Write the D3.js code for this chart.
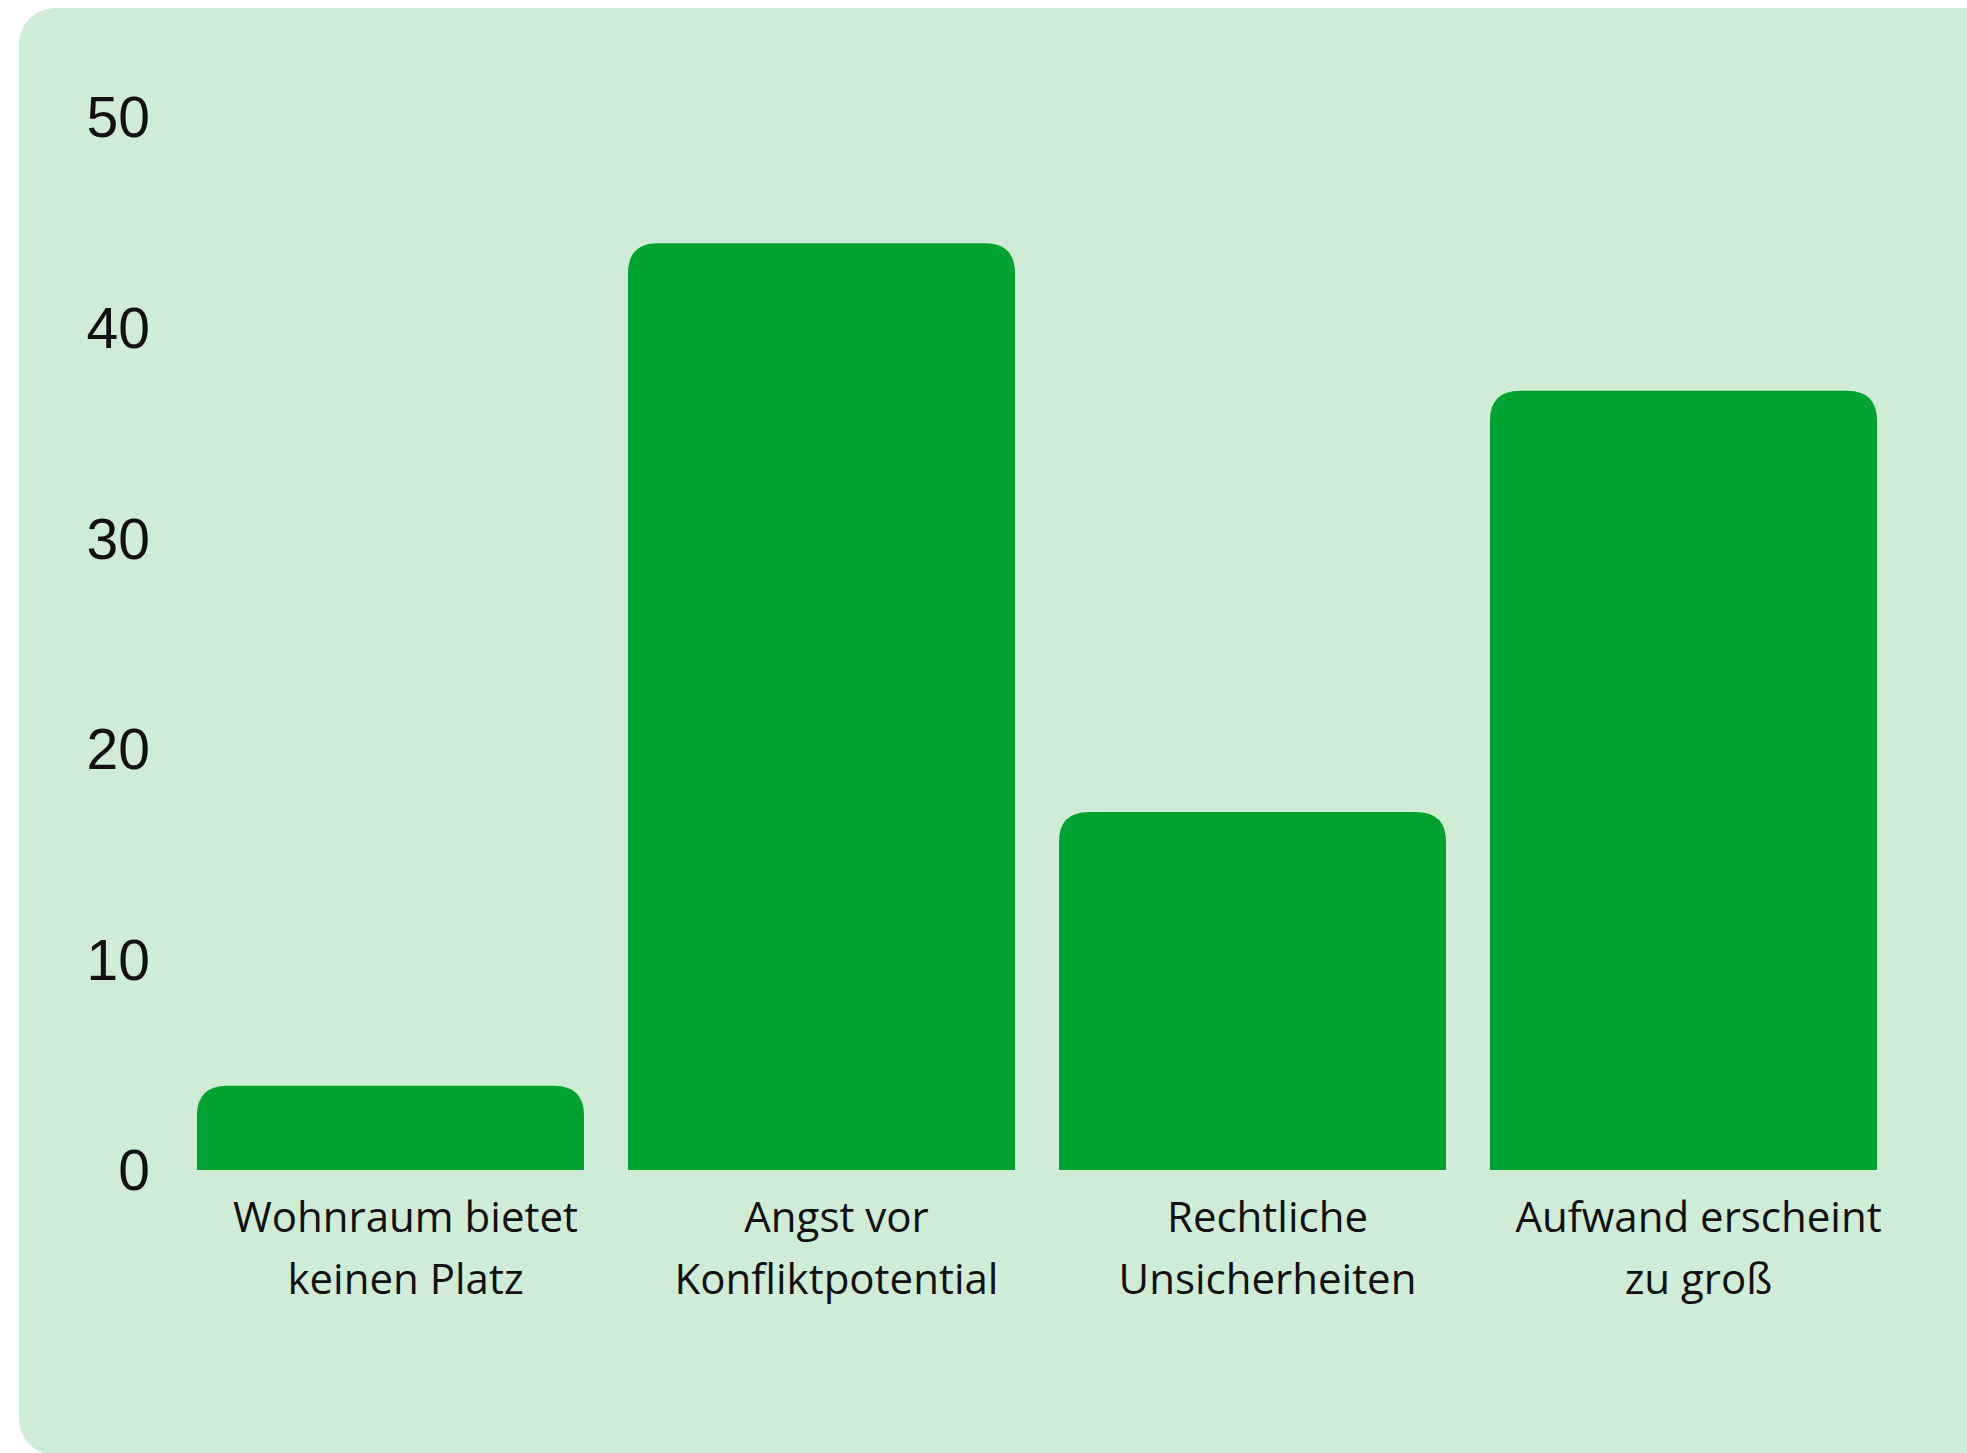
<!DOCTYPE html>
<html>
<head>
<meta charset="utf-8">
<script src="https://cdn.jsdelivr.net/npm/d3@7"></script>
<style>
  body { margin: 0; background: #ffffff; }
  svg { display: block; }
</style>
</head>
<body>
<div id="chart"></div>
<script>
// data
var categories = [
  ["Wohnraum bietet", "keinen Platz"],
  ["Angst vor", "Konfliktpotential"],
  ["Rechtliche", "Unsicherheiten"],
  ["Aufwand erscheint", "zu groß"]
];
var values = [4, 44, 17, 37];
var yTicks = [0, 10, 20, 30, 40, 50];

var W = 1967, H = 1453;
var svg = d3.select("#chart").append("svg")
  .attr("width", W)
  .attr("height", H);

// light green panel, runs off the right and bottom edge
svg.append("rect")
  .attr("x", 19)
  .attr("y", 8)
  .attr("width", W + 60)
  .attr("height", H + 2 - 8)
  .attr("rx", 36)
  .attr("fill", "#cfecd6");

var x = d3.scaleBand()
  .domain(d3.range(values.length))
  .range([175, 1899])
  .paddingInner(0.102)
  .paddingOuter(0.051);

var y = d3.scaleLinear()
  .domain([0, 50])
  .range([1170, 117]);

// y axis: only labels, no line and no ticks
var yAxis = svg.append("g")
  .attr("transform", "translate(150,0)")
  .call(d3.axisLeft(y).tickValues(yTicks).tickSize(0).tickPadding(0));
yAxis.select(".domain").remove();
yAxis.selectAll("text")
  .attr("font-family", "'Liberation Sans', Arial, sans-serif")
  .attr("font-size", 57)
  .attr("fill", "#111")
  .attr("dy", "0.35em");

// bars with rounded top corners
var r = 30;
function barPath(d, i) {
  var x0 = x(i), x1 = x(i) + x.bandwidth();
  var y0 = y(0), y1 = y(d);
  var rr = Math.min(r, (y0 - y1));
  return "M" + x0 + "," + y0 +
    "L" + x0 + "," + (y1 + rr) +
    "Q" + x0 + "," + y1 + " " + (x0 + rr) + "," + y1 +
    "L" + (x1 - rr) + "," + y1 +
    "Q" + x1 + "," + y1 + " " + x1 + "," + (y1 + rr) +
    "L" + x1 + "," + y0 + "Z";
}

svg.append("g").selectAll("path")
  .data(values)
  .enter()
  .append("path")
  .attr("d", barPath)
  .attr("fill", "#00a32f");

// category labels, two lines each
var lab = svg.append("g").selectAll("text")
  .data(categories)
  .enter()
  .append("text")
  .attr("text-anchor", "middle")
  .attr("font-family", "'Open Sans', 'Noto Sans', sans-serif")
  .attr("font-size", 42)
  .attr("fill", "#111")
  .attr("transform", function(d, i) {
    return "translate(" + (x(i) + x.bandwidth() / 2 + 15) + ",0)";
  });

lab.selectAll("tspan")
  .data(function(d) { return d; })
  .enter()
  .append("tspan")
  .attr("x", 0)
  .attr("y", function(d, j) { return 1232 + j * 62; })
  .text(function(d) { return d; });
</script>
</body>
</html>
